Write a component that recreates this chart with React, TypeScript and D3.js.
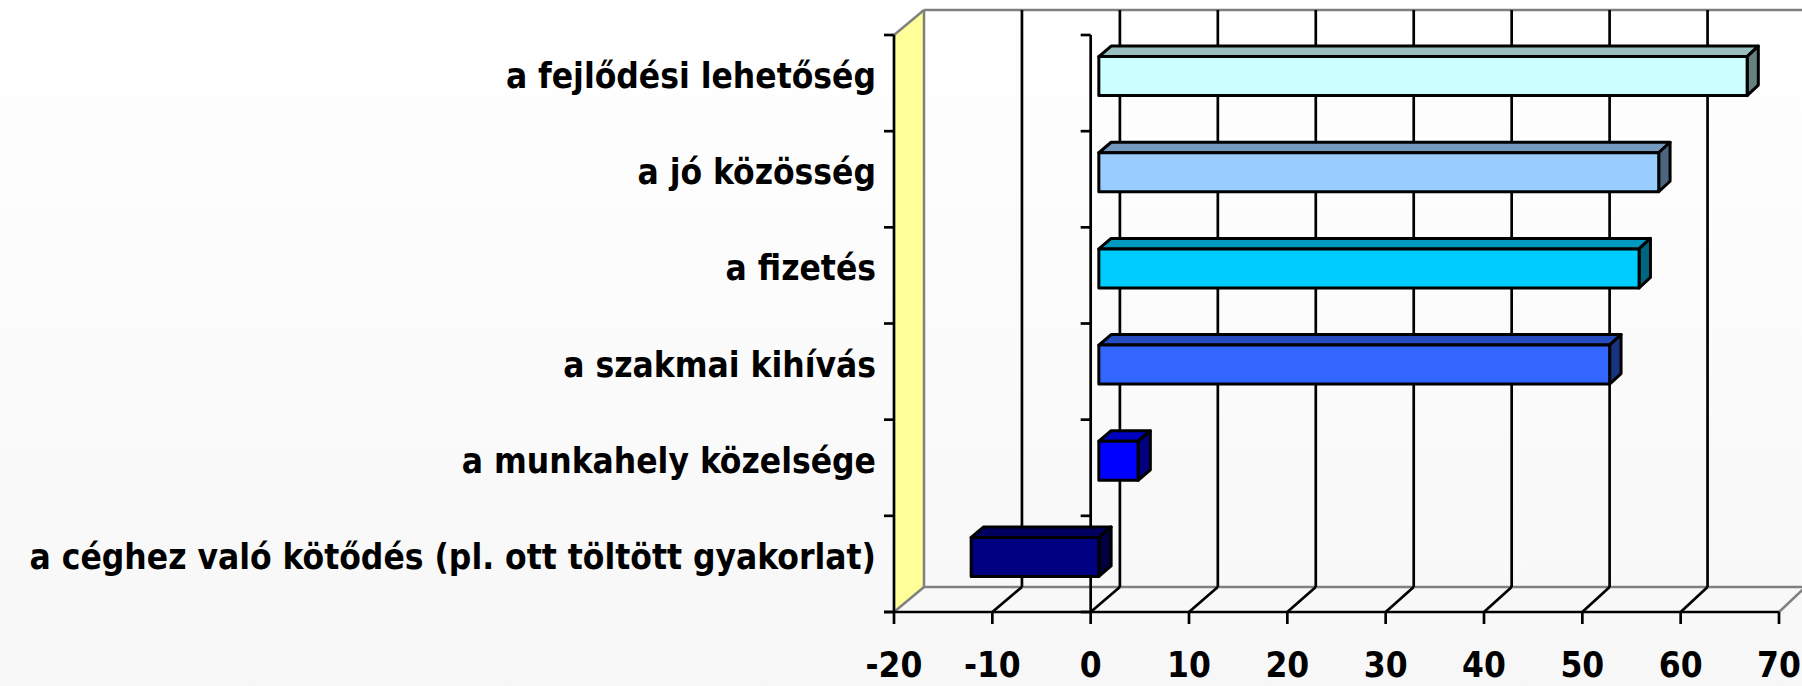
import React from "react";
import * as d3 from "d3";

const categories = [
  "a fejlődési lehetőség",
  "a jó közösség",
  "a fizetés",
  "a szakmai kihívás",
  "a munkahely közelsége",
  "a céghez való kötődés (pl. ott töltött gyakorlat)",
];
const values = [66, 57, 55, 52, 4, -13];
const barColors = ["#CCFFFF", "#99CCFF", "#00CCFF", "#3366FF", "#0000FF", "#000080"];
const xTicks = [-20, -10, 0, 10, 20, 30, 40, 50, 60, 70];

const W = 1802;
const H = 686;
const FONT = "'DejaVu Sans Condensed', 'DejaVu Sans', sans-serif";

function shade(c: string, k: number) {
  const r = d3.rgb(c);
  return d3.rgb(r.r * k, r.g * k, r.b * k).formatHex();
}

export default function App() {
  const xf = d3.scaleLinear().domain([-20, 70]).range([894, 1779]);
  const xb = d3.scaleLinear().domain([-20, 70]).range([924, 1805.5]);
  const yTop = 35;
  const yBot = 612;
  const DY = 25;
  const band = d3.scaleBand<string>().domain(categories).range([yTop, yBot]).paddingInner(0).paddingOuter(0);
  const bw = band.bandwidth();
  const tf = 0.28;
  const tb = 0.7;
  const half = 19.5;

  const P = (v: number, y: number, d: number): [number, number] => [
    xf(v) + d * (xb(v) - xf(v)),
    y - d * DY,
  ];
  const poly = (pts: [number, number][]) => pts.map((p) => p.join(",")).join(" ");

  const backTop = yTop - DY;
  const backBot = yBot - DY;
  const xL = xf(-20);
  const xLb = xb(-20);
  const xR = xf(70);
  const xRb = xb(70);

  const boundaries = d3.range(categories.length + 1).map((i) => yTop + i * bw);

  return (
    <svg width={W} height={H} style={{ position: "absolute", left: 0, top: 0 }}>
      <defs>
        <linearGradient id="bg" x1="0" y1="0" x2="0" y2="1">
          <stop offset="0" stopColor="#ffffff" />
          <stop offset="1" stopColor="#f7f7f7" />
        </linearGradient>
      </defs>
      <rect x={0} y={0} width={W} height={H} fill="url(#bg)" />

      {/* yellow side wall */}
      <polygon
        points={poly([[xL, yTop], [xLb, backTop], [xLb, backBot], [xL, yBot]])}
        fill="#FFFF99"
        stroke="none"
      />
      {/* back wall gray edges */}
      <line x1={xLb} y1={backTop} x2={xRb} y2={backTop} stroke="#808080" strokeWidth={2.5} />
      <line x1={xLb} y1={backTop} x2={xLb} y2={backBot} stroke="#808080" strokeWidth={2.5} />
      <line x1={xL} y1={yTop} x2={xLb} y2={backTop} stroke="#808080" strokeWidth={2.5} />
      <line x1={xL} y1={yBot} x2={xLb} y2={backBot} stroke="#808080" strokeWidth={2.5} />
      <line x1={xLb} y1={backBot} x2={xRb} y2={backBot} stroke="#808080" strokeWidth={2.5} />
      <line x1={xR} y1={yBot} x2={xRb} y2={backBot} stroke="#808080" strokeWidth={2.5} />

      {/* back wall gridlines and floor diagonals */}
      {xTicks
        .filter((t) => t > -20 && t < 70)
        .map((t) => (
          <g key={"g" + t}>
            <line x1={xb(t)} y1={backTop} x2={xb(t)} y2={backBot} stroke="#000" strokeWidth={2.7} />
            <line x1={xf(t)} y1={yBot} x2={xb(t)} y2={backBot} stroke="#000" strokeWidth={2.7} />
          </g>
        ))}

      {/* left category axis */}
      <line x1={xL} y1={yTop} x2={xL} y2={yBot} stroke="#000" strokeWidth={2.7} />
      {boundaries.map((y, i) => (
        <line key={"lt" + i} x1={xL - 10} y1={y} x2={xL} y2={y} stroke="#000" strokeWidth={2.7} />
      ))}
      {/* zero axis */}
      <line x1={xf(0)} y1={yTop} x2={xf(0)} y2={yBot} stroke="#000" strokeWidth={2.7} />
      {boundaries.map((y, i) => (
        <line key={"zt" + i} x1={xf(0) - 10} y1={y} x2={xf(0)} y2={y} stroke="#000" strokeWidth={2.7} />
      ))}
      {/* bottom value axis */}
      <line x1={xL - 10} y1={yBot} x2={xR} y2={yBot} stroke="#000" strokeWidth={2.7} />
      {xTicks.map((t) => (
        <line key={"bt" + t} x1={xf(t)} y1={yBot} x2={xf(t)} y2={yBot + 12} stroke="#000" strokeWidth={2.7} />
      ))}
      {xTicks.map((t) => (
        <text
          key={"tl" + t}
          x={xf(t)}
          y={677}
          textAnchor="middle"
          fontFamily={FONT}
          fontWeight="bold"
          fontSize={35}
          fill="#000"
        >
          {String(t)}
        </text>
      ))}

      {/* category labels */}
      {categories.map((c) => (
        <text
          key={"cl" + c}
          x={876}
          y={(band(c) as number) + bw / 2 + 5}
          textAnchor="end"
          fontFamily={FONT}
          fontWeight="bold"
          fontSize={35}
          fill="#000"
        >
          {c}
        </text>
      ))}

      {/* bars */}
      {categories.map((c, i) => {
        const v = values[i];
        const v0 = Math.min(0, v);
        const v1 = Math.max(0, v);
        const yc = (band(c) as number) + bw / 2;
        const yt = yc - half;
        const yb = yc + half;
        const col = barColors[i];
        const front = poly([P(v0, yt, tf), P(v1, yt, tf), P(v1, yb, tf), P(v0, yb, tf)]);
        const top = poly([P(v0, yt, tf), P(v1, yt, tf), P(v1, yt, tb), P(v0, yt, tb)]);
        const side = poly([P(v1, yt, tf), P(v1, yt, tb), P(v1, yb, tb), P(v1, yb, tf)]);
        return (
          <g key={"b" + i} stroke="#000" strokeWidth={3} strokeLinejoin="round">
            <polygon points={top} fill={shade(col, 0.75)} />
            <polygon points={side} fill={shade(col, 0.5)} />
            <polygon points={front} fill={col} />
          </g>
        );
      })}
    </svg>
  );
}
